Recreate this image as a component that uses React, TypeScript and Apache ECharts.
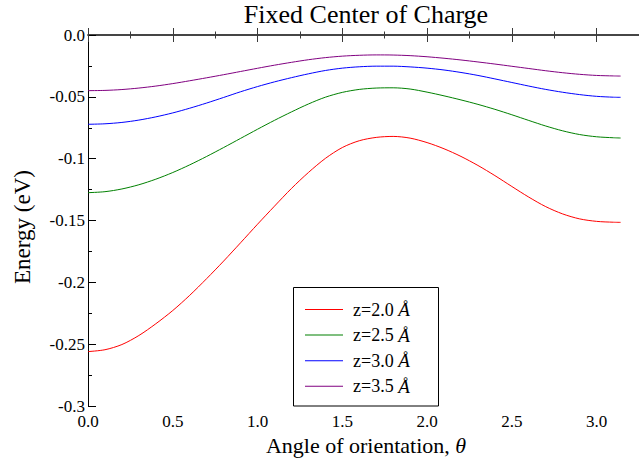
import { useEffect, useRef } from "react";
import * as echarts from "echarts";

// Orientation angle (radians) at which the energies are sampled
const theta = [
  0, 0.1, 0.2, 0.3, 0.4, 0.5, 0.6, 0.7, 0.8, 0.9, 1.0, 1.1, 1.2, 1.3, 1.4, 1.5, 1.6,
  1.7, 1.8, 1.9, 2.0, 2.1, 2.2, 2.3, 2.4, 2.5, 2.6, 2.7, 2.8, 2.9, 3.0, 3.1, 3.1416,
];

// Energy (eV) for each height z above the surface
const energyZ20 = [
  -0.256, -0.2545, -0.2503, -0.243, -0.2335, -0.2228, -0.2105, -0.197, -0.1828, -0.168, -0.153,
  -0.1384, -0.1241, -0.1112, -0.0998, -0.091, -0.0855, -0.0828, -0.082, -0.0834, -0.087, -0.092,
  -0.0982, -0.1055, -0.1137, -0.1225, -0.1311, -0.1388, -0.1447, -0.1487, -0.1507, -0.1514, -0.1515,
];
const energyZ25 = [
  -0.1275, -0.1267, -0.1245, -0.1211, -0.1166, -0.1112, -0.105, -0.0982, -0.091, -0.0836, -0.0762,
  -0.069, -0.0622, -0.0558, -0.0503, -0.0464, -0.044, -0.0429, -0.0427, -0.0437, -0.0462, -0.0492,
  -0.0525, -0.0561, -0.0601, -0.0645, -0.0691, -0.0736, -0.0775, -0.0805, -0.0823, -0.0831, -0.0833,
];
const energyZ30 = [
  -0.0722, -0.0718, -0.0707, -0.0688, -0.0662, -0.063, -0.0592, -0.055, -0.0505, -0.0459, -0.0417,
  -0.0379, -0.0345, -0.0314, -0.0287, -0.0268, -0.0257, -0.0252, -0.0252, -0.0258, -0.0268, -0.0283,
  -0.0303, -0.0327, -0.0355, -0.0384, -0.0413, -0.044, -0.0463, -0.0482, -0.0496, -0.0503, -0.0504,
];
const energyZ35 = [
  -0.045, -0.0448, -0.0441, -0.0429, -0.0413, -0.0393, -0.037, -0.0346, -0.0321, -0.0295, -0.0269,
  -0.0244, -0.0221, -0.02, -0.0183, -0.0171, -0.0164, -0.0161, -0.0162, -0.0167, -0.0176, -0.0188,
  -0.0202, -0.0218, -0.0235, -0.0253, -0.0271, -0.0289, -0.0305, -0.0318, -0.0327, -0.0331, -0.0332,
];

const seriesNames = ["z=2.0 Å", "z=2.5 Å", "z=3.0 Å", "z=3.5 Å"];
const seriesColors = ["#ff0000", "#008000", "#0000ff", "#800080"];
const seriesValues = [energyZ20, energyZ25, energyZ30, energyZ35];

const xTickLabels = ["0.0", "0.5", "1.0", "1.5", "2.0", "2.5", "3.0"];
const yTickLabels = ["0.0", "-0.05", "-0.1", "-0.15", "-0.2", "-0.25", "-0.3"];

const FONT = "Liberation Serif";

export default function App() {
  const ref = useRef<HTMLDivElement>(null);

  useEffect(() => {
    if (!ref.current) return;
    const chart = echarts.init(ref.current, null, { renderer: "svg" });

    const xLabel = (v: number) => {
      const i = Math.round(v / 0.5);
      return Math.abs(v - i * 0.5) < 1e-6 && i < xTickLabels.length ? xTickLabels[i] : "";
    };
    const yLabel = (v: number) => {
      const i = Math.round(-v / 0.05);
      return Math.abs(-v - i * 0.05) < 1e-6 && i < yTickLabels.length ? yTickLabels[i] : "";
    };

    // horizontal axes: bottom one carries the labels, top one mirrors the ticks
    const axisCommon = {
      type: "value" as const,
      min: 0,
      max: 3.25,
      interval: 0.5,
      axisLine: { show: true, lineStyle: { color: "#3a3a3a", width: 1.5 } },
      axisTick: { show: true, inside: true, length: 7, lineStyle: { color: "#3a3a3a", width: 1 } },
      minorTick: { show: true, splitNumber: 2, length: 3.5, lineStyle: { color: "#3a3a3a", width: 1 } },
      splitLine: { show: false },
      minorSplitLine: { show: false },
    };

    chart.setOption({
      animation: false,
      backgroundColor: "#fff",
      grid: { left: 88, top: 35, bottom: 56, right: -23.7 },
      xAxis: [
        {
          ...axisCommon,
          position: "bottom",
          axisLabel: {
            show: true,
            margin: 7,
            color: "#000",
            fontSize: 17,
            fontFamily: FONT,
            showMaxLabel: false,
            formatter: xLabel,
          },
        },
        {
          ...axisCommon,
          position: "top",
          axisLabel: { show: false },
        },
      ],
      yAxis: {
        type: "value",
        min: -0.3,
        max: 0,
        interval: 0.05,
        axisLine: { show: true, lineStyle: { color: "#000", width: 1 } },
        axisTick: { show: true, inside: true, length: 8, lineStyle: { color: "#000", width: 1 } },
        minorTick: { show: true, splitNumber: 2, length: 4, lineStyle: { color: "#000", width: 1 } },
        splitLine: { show: false },
        axisLabel: {
          margin: 3,
          color: "#000",
          fontSize: 17,
          fontFamily: FONT,
          formatter: yLabel,
        },
      },
      legend: {
        orient: "vertical",
        left: 305,
        top: 300,
        padding: 0,
        itemWidth: 38,
        itemHeight: 14,
        itemGap: 6.6,
        icon: "path://M0,0 L38,0 L38,1 L0,1 Z",
        data: seriesNames,
        formatter: (name: string) => name.replace("Å", "{i|Å}"),
        textStyle: {
          color: "#000",
          fontSize: 18,
          fontFamily: FONT,
          padding: [0, 0, 0, 5],
          rich: {
            i: { fontStyle: "italic", fontSize: 19, fontFamily: FONT, color: "#000" },
          },
        },
      },
      graphic: [
        {
          type: "rect",
          shape: { x: 293.5, y: 287.5, width: 145, height: 118.5 },
          style: { fill: "#fff", stroke: "#000", lineWidth: 1 },
          z: 3,
        },
        {
          type: "text",
          x: 366,
          y: 14,
          style: {
            text: "Fixed Center of Charge",
            fontSize: 26,
            fontFamily: FONT,
            fill: "#000",
            align: "center",
            verticalAlign: "middle",
          },
        },
        {
          type: "text",
          x: 366,
          y: 445,
          style: {
            text: "Angle of orientation, {i|θ}",
            fontSize: 22,
            fontFamily: FONT,
            fill: "#000",
            align: "center",
            verticalAlign: "middle",
            rich: { i: { fontStyle: "italic", fontSize: 22, fontFamily: FONT } },
          },
        },
        {
          type: "text",
          x: 22,
          y: 227,
          rotation: Math.PI / 2,
          style: {
            text: "Energy (eV)",
            fontSize: 23,
            fontFamily: FONT,
            fill: "#000",
            align: "center",
            verticalAlign: "middle",
          },
        },
      ],
      series: seriesNames.map((name, k) => ({
        name,
        type: "line",
        xAxisIndex: 0,
        symbol: "none",
        showSymbol: false,
        smooth: 0.3,
        color: seriesColors[k],
        lineStyle: { color: seriesColors[k], width: 1 },
        data: theta.map((t, i) => [t, seriesValues[k][i]]),
      })),
    });

    return () => chart.dispose();
  }, []);

  return (
    <div
      ref={ref}
      style={{ position: "fixed", left: 0, top: 0, width: 639, height: 462, background: "#fff" }}
    />
  );
}
